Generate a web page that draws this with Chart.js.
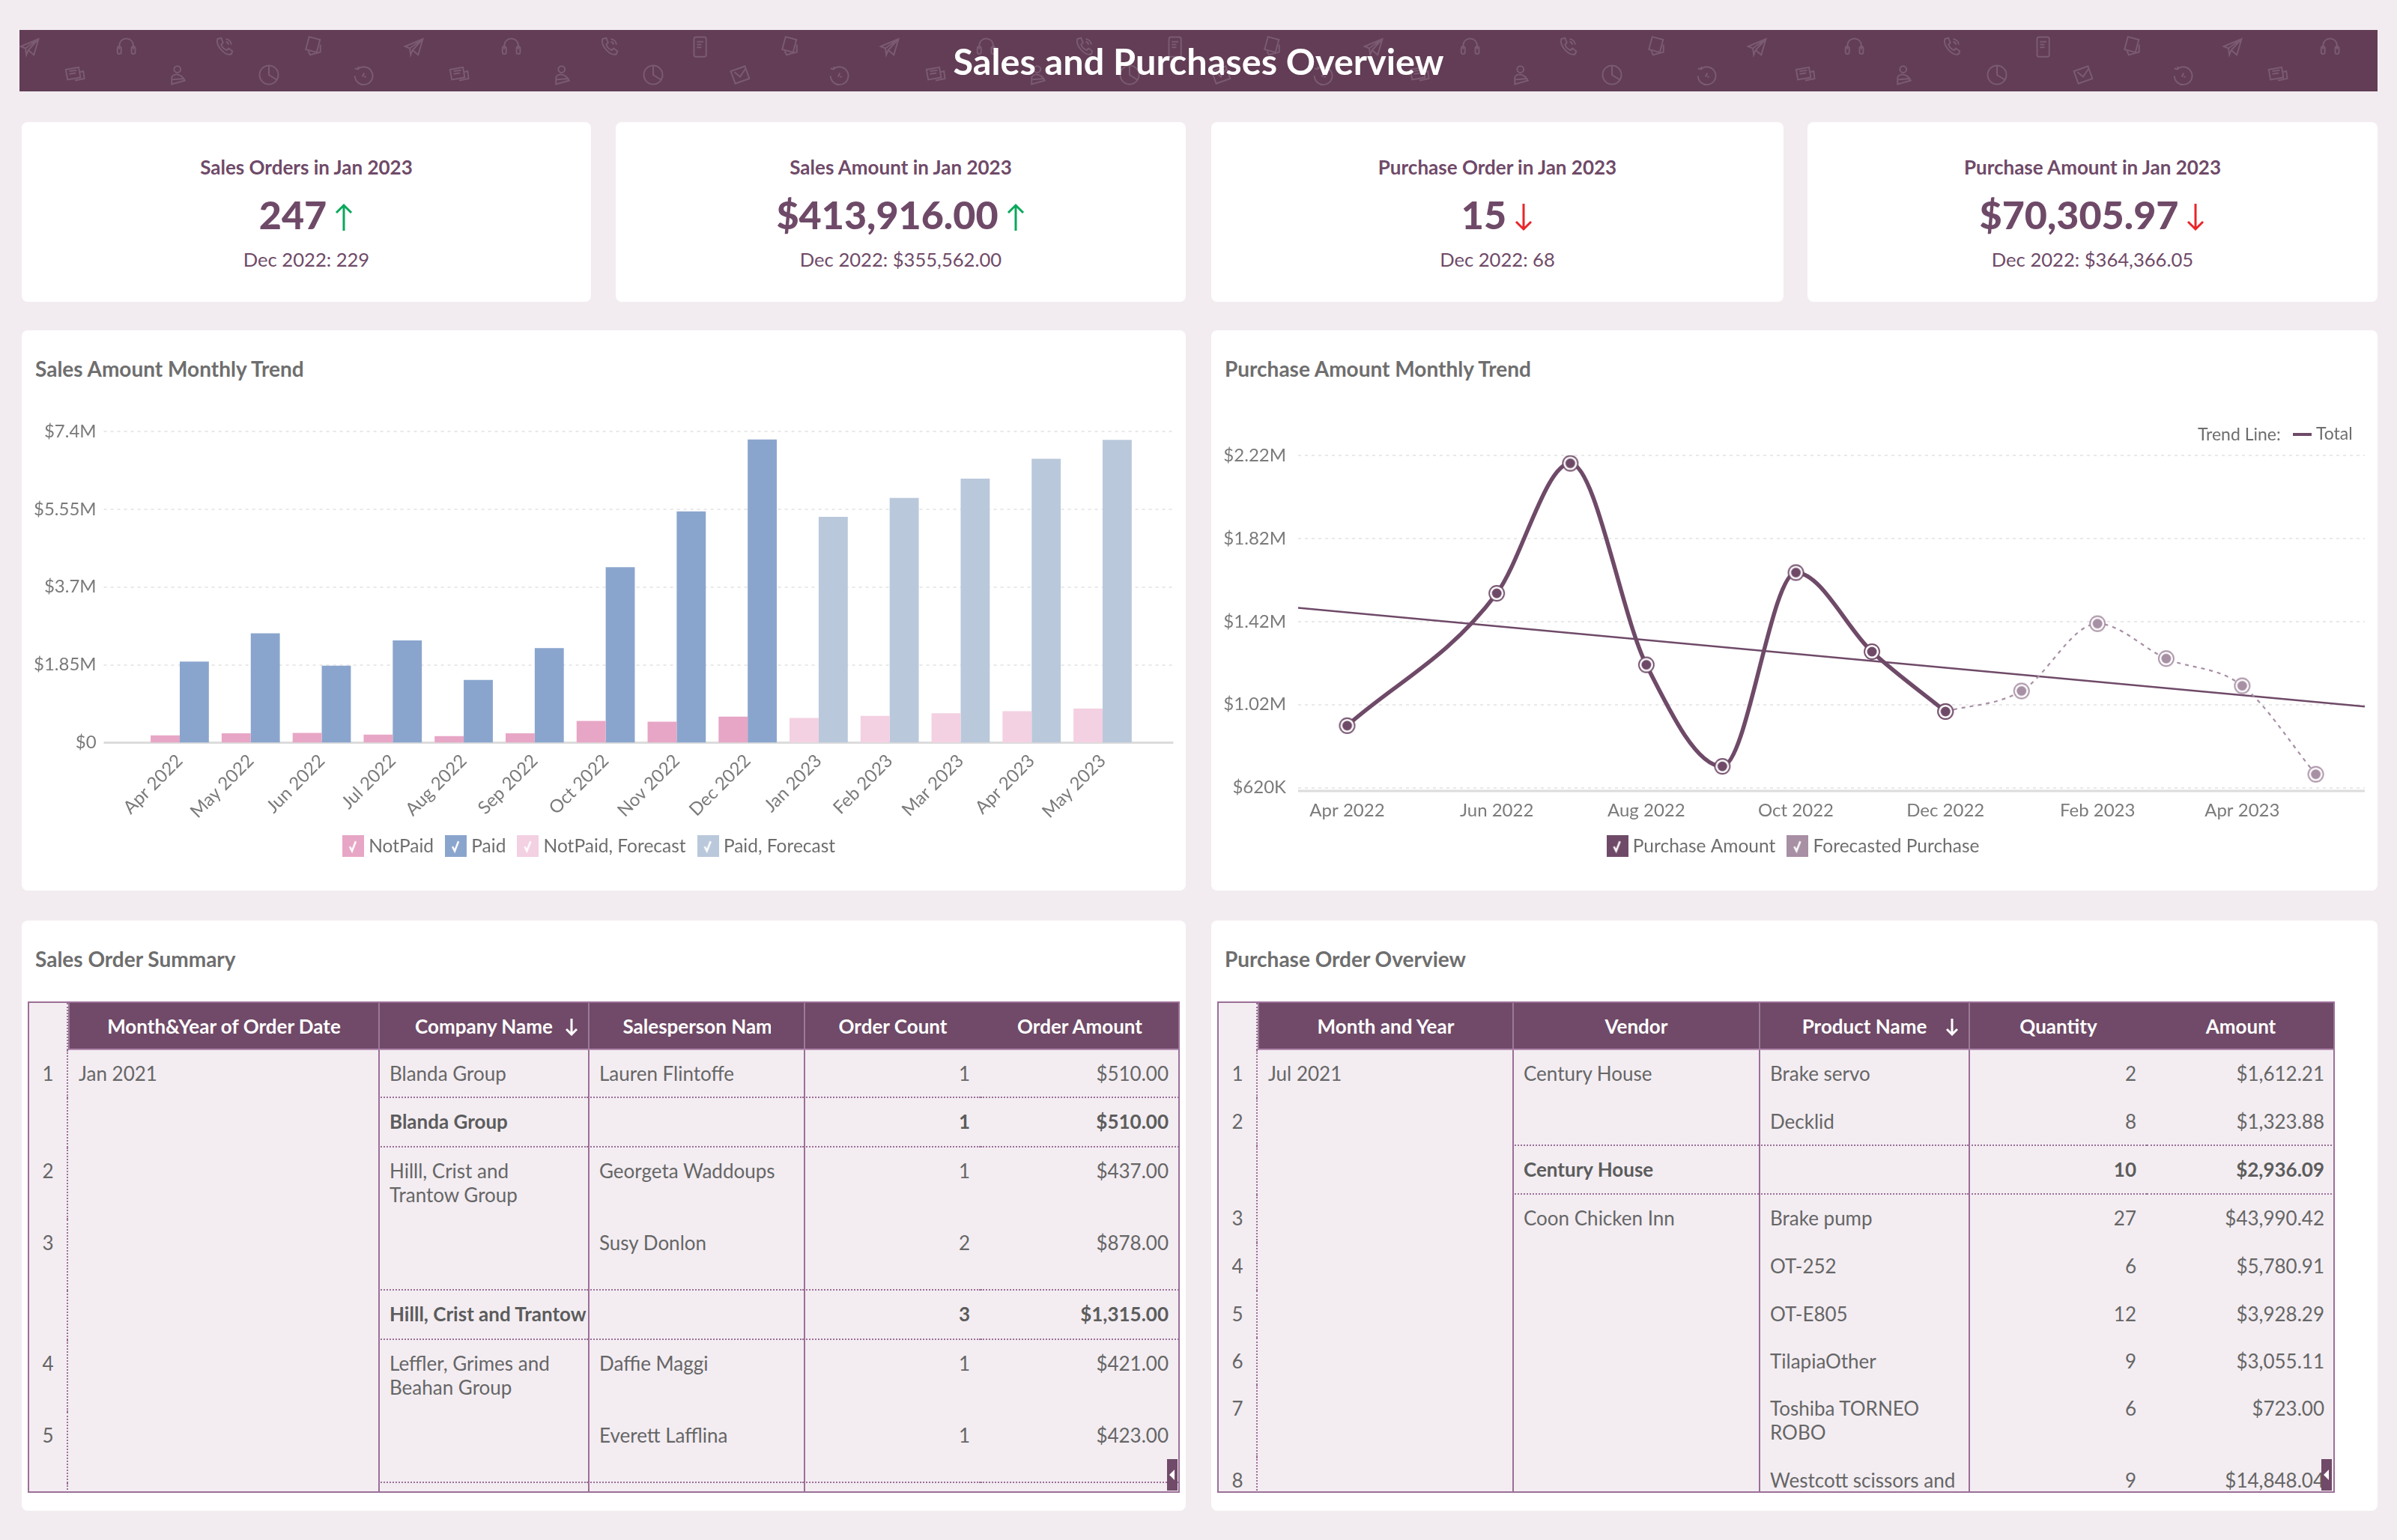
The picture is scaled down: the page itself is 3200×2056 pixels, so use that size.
<!DOCTYPE html>
<html>
<head>
<meta charset="utf-8">
<title>Sales and Purchases Overview</title>
<script src="https://cdn.jsdelivr.net/npm/chart.js@4/dist/chart.umd.min.js"></script>
<style>
  html, body { margin: 0; padding: 0; background: #f2ecf1; }
  body { position: relative; width: 3200px; height: 2056px; overflow: hidden; font-family: Lato, sans-serif; color: #666; }
  .abs { position: absolute; }
  .banner { left: 26px; top: 40px; width: 3148px; height: 82px; background: #623d55; overflow: hidden; }
  .banner svg { position: absolute; width: 30px; height: 30px; fill: none; stroke: #7b5b71; stroke-width: 1.6; }
  .banner-title { position: absolute; left: 0; width: 100%; top: 0; line-height: 82px; text-align: center; color: #fff; font-size: 48.6px; font-weight: 700; }
  .card { position: absolute; background: #fff; border-radius: 8px; }
  .kpi-title, .kpi-value, .kpi-prev { position: absolute; left: 0; width: 100%; text-align: center; color: #6f4a68; white-space: nowrap; }
  .kpi-title { top: 40px; line-height: 40px; font-size: 26px; font-weight: 700; }
  .kpi-value { top: 88px; line-height: 70px; font-size: 52px; font-weight: 900; }
  .kpi-value svg { width: 26px; height: 38px; margin-left: 10px; vertical-align: -3px; }
  .kpi-prev { top: 163px; line-height: 40px; font-size: 25.6px; }
  .card-title { position: absolute; font-size: 28px; font-weight: 700; color: #6e6e6e; line-height: 40px; white-space: nowrap; }
  canvas { position: absolute; }
  .frame { position: absolute; border: 2px solid #9b6f97; background: #f3edf2; overflow: hidden; box-sizing: border-box; }
  table { border-collapse: separate; border-spacing: 0; table-layout: fixed; position: absolute; left: 0; top: 0; font-size: 26px; color: #666; }
  th { background: #704a68; color: #fff; font-weight: 700; height: 63px; padding: 0; border-left: 2px solid #9b7a96; border-bottom: 2px solid #b48ab0; white-space: nowrap; position: relative; box-sizing: border-box; }
  th.noborder { border-left: 0; }
  th.blank { background: #f3edf2; border-left: 0; border-bottom: 0; border-right: 2px dotted #9b6f97; }
  th .clip { display: block; overflow: hidden; margin: 0 auto; text-align: left; }
  th svg { position: absolute; top: 20px; width: 16px; height: 24px; fill: none; stroke: #fff; stroke-width: 3; }
  td { padding: 15px 14px 0; line-height: 32px; vertical-align: top; overflow: hidden; box-sizing: border-box; }
  td.num { text-align: center; padding-left: 0; padding-right: 0; border-right: 2px dotted #9b6f97; }
  td.line { border-left: 2px solid #9b6f97; padding-left: 13px; }
  td.right { text-align: right; }
  td.nowrap { white-space: nowrap; padding-right: 0; }
  tr.total td { font-weight: 700; color: #5c5c5c; }
  td.dots { border-bottom: 2px dotted #9b6f97; }
  .scroller { position: absolute; width: 14px; height: 42px; background: #704a68; }
  .scroller:after { content: ""; position: absolute; left: 3px; top: 14px; border-style: solid; border-width: 7px 7px 7px 0; border-color: transparent #fff transparent transparent; }
  .trend-key { position: absolute; font-size: 23px; color: #6e6e6e; line-height: 30px; white-space: nowrap; }
</style>
</head>
<body>

<div class="abs banner" id="banner"><div class="banner-title">Sales and Purchases Overview</div></div>

<div id="kpis"></div>

<div class="card" style="left:29px;top:441px;width:1554px;height:748px"></div>
<div class="card" style="left:1617px;top:441px;width:1557px;height:748px"></div>
<div class="card-title" style="left:47px;top:472px">Sales Amount Monthly Trend</div>
<div class="card-title" style="left:1635px;top:472px">Purchase Amount Monthly Trend</div>
<canvas id="salesChart" width="1572" height="748" style="left:0;top:441px"></canvas>
<canvas id="purchaseChart" width="1553" height="748" style="left:1617px;top:441px"></canvas>
<div class="trend-key" style="left:2934px;top:564px">Trend Line:</div>
<div class="abs" style="left:3061px;top:578px;width:25px;height:4px;background:#6f4a68"></div>
<div class="trend-key" style="left:3092px;top:563px">Total</div>

<div class="card" style="left:29px;top:1229px;width:1554px;height:788px"></div>
<div class="card" style="left:1617px;top:1229px;width:1557px;height:788px"></div>
<div class="card-title" style="left:47px;top:1260px">Sales Order Summary</div>
<div class="card-title" style="left:1635px;top:1260px">Purchase Order Overview</div>
<div class="frame" id="salesTable" style="left:37px;top:1337px;width:1538px;height:656px"></div>
<div class="frame" id="purchaseTable" style="left:1625px;top:1337px;width:1492px;height:656px"></div>
<div class="scroller" style="left:1558px;top:1948px"></div>
<div class="scroller" style="left:3099px;top:1948px"></div>

<script>
const salesMonths = ['Apr 2022', 'May 2022', 'Jun 2022', 'Jul 2022', 'Aug 2022', 'Sep 2022', 'Oct 2022', 'Nov 2022', 'Dec 2022', 'Jan 2023', 'Feb 2023', 'Mar 2023', 'Apr 2023', 'May 2023'];
const notPaid = [172000, 224000, 233000, 190000, 155000, 224000, 517000, 500000, 620000, null, null, null, null, null];
const paid = [1930000, 2600000, 1830000, 2430000, 1490000, 2250000, 4170000, 5500000, 7210000, null, null, null, null, null];
const notPaidForecast = [null, null, null, null, null, null, null, null, null, 586000, 637000, 698000, 750000, 810000];
const paidForecast = [null, null, null, null, null, null, null, null, null, 5370000, 5820000, 6280000, 6750000, 7200000];
const salesTicks = [0, 1850000, 3700000, 5550000, 7400000];

// purchase chart runs on a real date axis, so x is days since 1 Apr 2022
const purchaseDays = [0, 61, 91, 122, 153, 183, 214, 244];
const purchaseAmount = [919000, 1556000, 2182000, 1212000, 723000, 1656000, 1275000, 987000];
const forecastDays = [244, 275, 306, 334, 365, 395];
const forecastAmount = [987000, 1086000, 1410000, 1242000, 1111000, 685000];
const trendDays = [-20, 415];
const trendAmount = [1486000, 1011000];
const purchaseTicks = [620000, 1020000, 1420000, 1820000, 2220000];
const purchaseTickDays = [0, 61, 122, 183, 244, 306, 365];
const purchaseTickLabels = ['Apr 2022', 'Jun 2022', 'Aug 2022', 'Oct 2022', 'Dec 2022', 'Feb 2023', 'Apr 2023'];

const kpiCards = [
  { title: 'Sales Orders in Jan 2023', value: '247', prev: 'Dec 2022: 229', up: true, left: 29, width: 760 },
  { title: 'Sales Amount in Jan 2023', value: '$413,916.00', prev: 'Dec 2022: $355,562.00', up: true, left: 822, width: 761 },
  { title: 'Purchase Order in Jan 2023', value: '15', prev: 'Dec 2022: 68', up: false, left: 1617, width: 764 },
  { title: 'Purchase Amount in Jan 2023', value: '$70,305.97', prev: 'Dec 2022: $364,366.05', up: false, left: 2413, width: 761 },
];

const salesColumns = ['Month&Year of Order Date', 'Company Name', 'Salesperson Name', 'Order Count', 'Order Amount'];
const salesRows = [
  ['1', 'Jan 2021', 'Blanda Group', 'Lauren Flintoffe', '1', '$510.00'],
  ['', '', 'Blanda Group', '', '1', '$510.00', 'total'],
  ['2', '', 'Hilll, Crist and Trantow Group', 'Georgeta Waddoups', '1', '$437.00'],
  ['3', '', '', 'Susy Donlon', '2', '$878.00', 'end'],
  ['', '', 'Hilll, Crist and Trantow Group', '', '3', '$1,315.00', 'total'],
  ['4', '', 'Leffler, Grimes and Beahan Group', 'Daffie Maggi', '1', '$421.00'],
  ['5', '', '', 'Everett Lafflina', '1', '$423.00', 'end'],
  ['', '', '', '', '', ''],
];
const salesHeights = [64, 66, 96, 95, 66, 96, 95, 40];
const salesWidths = [52, 414, 280, 288, 236, 265];

const purchaseColumns = ['Month and Year', 'Vendor', 'Product Name', 'Quantity', 'Amount'];
const purchaseRows = [
  ['1', 'Jul 2021', 'Century House', 'Brake servo', '2', '$1,612.21'],
  ['2', '', '', 'Decklid', '8', '$1,323.88', 'end'],
  ['', '', 'Century House', '', '10', '$2,936.09', 'total'],
  ['3', '', 'Coon Chicken Inn', 'Brake pump', '27', '$43,990.42'],
  ['4', '', '', 'OT-252', '6', '$5,780.91'],
  ['5', '', '', 'OT-E805', '12', '$3,928.29'],
  ['6', '', '', 'TilapiaOther', '9', '$3,055.11'],
  ['7', '', '', 'Toshiba TORNEO ROBO', '6', '$723.00'],
  ['8', '', '', 'Westcott scissors and', '9', '$14,848.04'],
];
const purchaseHeights = [64, 64, 65, 64, 64, 63, 63, 96, 60];
const purchaseWidths = [52, 340, 329, 280, 238, 251];

const iconShapes = {
  plane: '<path d="M3 12 L22 4 L17 21 L11 16 L9 21 L8 14 Z M8 14 L22 4 M11 16 L22 4"/>',
  headset: '<path d="M5 15 V11 a7.5 7.5 0 0 1 15 0 V15"/><rect x="3" y="12" width="4" height="8" rx="2"/><rect x="18" y="12" width="4" height="8" rx="2"/>',
  phone: '<path d="M5 4 L9 3 L11 8 L9 10 C10 13 12 15 15 16 L17 14 L21 17 L20 20 C14 23 3 12 5 4 Z"/><path d="M14 4 a7 7 0 0 1 6 6 M14 7 a4 4 0 0 1 3 3"/>',
  papers: '<rect x="5" y="3" width="12" height="14" transform="rotate(15 11 10)"/><path d="M6 17 L8 21 L19 18 L19 10"/>',
  tablet: '<rect x="6" y="2" width="13" height="21" rx="2"/><path d="M9 7 H16 M9 10 H14 M9 13 H14"/>',
  chat: '<rect x="3" y="5" width="14" height="11" transform="rotate(-10 10 10)"/><path d="M17 9 L21 8 L22 16 L12 18 M6 8 L14 7 M6 11 L13 10"/>',
  person: '<circle cx="11" cy="6" r="3.5"/><path d="M5 22 V15 C6 10 15 10 19 18 Z M6 17 L18 16"/>',
  pie: '<circle cx="12" cy="12" r="10"/><path d="M12 2 V12 L20 17"/>',
  clock: '<path d="M6 6 a9.5 9.5 0 1 1 -3 7 M3 5 L6 6 L7 3"/><path d="M11 14 L13 10 M13 14 H15"/>',
  letter: '<rect x="4" y="5" width="16" height="14" transform="rotate(-20 12 12)"/><path d="M6 9 L12 14 L18 5"/>',
};
const iconsTop = [['plane', 39], ['headset', 168], ['phone', 299], ['papers', 419], ['plane', 552], ['headset', 682], ['phone', 813], ['tablet', 934], ['papers', 1055], ['plane', 1187], ['headset', 1316], ['phone', 1447], ['tablet', 1568], ['papers', 1699], ['plane', 1833], ['headset', 1962], ['phone', 2093], ['papers', 2212], ['plane', 2345], ['headset', 2475], ['phone', 2605], ['tablet', 2727], ['papers', 2847], ['plane', 2980], ['headset', 3110]];
const iconsBottom = [['chat', 100], ['person', 238], ['pie', 359], ['clock', 485], ['chat', 613], ['person', 751], ['pie', 872], ['letter', 988], ['clock', 1120], ['chat', 1249], ['person', 1386], ['pie', 1508], ['letter', 1630], ['clock', 1766], ['chat', 1895], ['person', 2031], ['pie', 2152], ['clock', 2278], ['chat', 2410], ['person', 2542], ['pie', 2666], ['letter', 2781], ['clock', 2914], ['chat', 3041]];

// header pattern
const banner = document.getElementById('banner');
const drawIcons = (list, top) => {
  let html = '';
  list.forEach(([name, x]) => {
    html += `<svg viewBox="0 0 24 24" style="left:${x - 26 - 15}px;top:${top}px">${iconShapes[name]}</svg>`;
  });
  banner.insertAdjacentHTML('afterbegin', html);
};
drawIcons(iconsTop, 7);
drawIcons(iconsBottom, 45);

// KPI cards
const arrowSvg = (up) => {
  const color = up ? '#0aa85a' : '#e8262a';
  const path = up ? 'M13 37 V3 M3 13 L13 3 L23 13' : 'M13 1 V35 M3 25 L13 35 L23 25';
  return `<svg viewBox="0 0 26 38" fill="none" stroke="${color}" stroke-width="3">` + `<path d="${path}"/></svg>`;
};
document.getElementById('kpis').innerHTML = kpiCards.map(k => `
  <div class="card" style="left:${k.left}px;top:163px;width:${k.width}px;height:240px">
    <div class="kpi-title">${k.title}</div>
    <div class="kpi-value">${k.value}${arrowSvg(k.up)}</div>
    <div class="kpi-prev">${k.prev}</div>
  </div>`).join('');

// tables
const headCell = (text, i, clips) => {
  const c = clips[i];
  const inner = c && c.clip ? `<span class="clip" style="width:${c.clip}px">${text}</span>` : text;
  const arrow = c && c.arrow ? `<svg viewBox="0 0 16 24" style="left:${c.arrow}px"><path d="M8 1 V22 M1 15 L8 22 L15 15"/></svg>` : '';
  return `<th${i === 4 ? ' class="noborder"' : ''}>${inner}${arrow}</th>`;
};
const buildTable = (id, columns, rows, heights, widths, clips) => {
  let html = '<table style="width:' + widths.reduce((a, b) => a + b, 0) + 'px"><colgroup>';
  widths.forEach(w => { html += `<col style="width:${w}px">`; });
  html += '</colgroup><tr><th class="blank"></th>' + columns.map((c, i) => headCell(c, i, clips)).join('') + '</tr>';
  rows.forEach((r, i) => {
    const kind = r[6] || '';
    const dots = rows[i + 1] && (kind === 'total' || kind === 'end' || (rows[i + 1][6] === 'total')) ? ' dots' : '';
    html += `<tr class="${kind}" style="height:${heights[i]}px">`;
    html += `<td class="num">${r[0]}</td><td>${r[1]}</td>`;
    html += `<td class="line${dots}${kind === 'total' ? ' nowrap' : ''}">${r[2]}</td>`;
    html += `<td class="line${dots}">${r[3]}</td>`;
    html += `<td class="line right${dots}">${r[4]}</td>`;
    html += `<td class="right${dots}">${r[5]}</td></tr>`;
  });
  document.getElementById(id).innerHTML = html + '</table>';
};
buildTable('salesTable', salesColumns, salesRows, salesHeights, salesWidths, { 1: { arrow: 248 }, 2: { clip: 197 } });
buildTable('purchaseTable', purchaseColumns, purchaseRows, purchaseHeights, purchaseWidths, { 2: { arrow: 248 } });

// swatches and markers are small canvases so the legend and points can use them as pointStyle
const makeSwatch = (color) => {
  const c = document.createElement('canvas');
  c.width = 29; c.height = 29;
  const ctx = c.getContext('2d');
  ctx.fillStyle = color;
  ctx.fillRect(0, 0, 29, 29);
  ctx.strokeStyle = '#fff';
  ctx.lineWidth = 2.5;
  ctx.beginPath();
  ctx.moveTo(10, 15); ctx.lineTo(13, 21); ctx.lineTo(18, 8);
  ctx.stroke();
  return c;
};
const makeMarker = (color) => {
  const c = document.createElement('canvas');
  c.width = 24; c.height = 24;
  const ctx = c.getContext('2d');
  ctx.fillStyle = '#fff';
  ctx.strokeStyle = color;
  ctx.lineWidth = 1.8;
  ctx.beginPath(); ctx.arc(12, 12, 10, 0, Math.PI * 2); ctx.fill(); ctx.stroke();
  ctx.fillStyle = color;
  ctx.beginPath(); ctx.arc(12, 12, 6.5, 0, Math.PI * 2); ctx.fill();
  return c;
};

// dotted guides and the base line, these run wider than the plot area
const guideLines = {
  id: 'guideLines',
  beforeDatasetsDraw(chart, args, opts) {
    const { ctx, chartArea, scales } = chart;
    const x0 = chartArea.left - opts.extLeft;
    const x1 = chartArea.right + opts.extRight;
    ctx.save();
    ctx.strokeStyle = '#e9e9e9';
    ctx.lineWidth = 2;
    ctx.setLineDash([4, 5]);
    opts.ticks.forEach(v => {
      const y = Math.round(scales.y.getPixelForValue(v));
      ctx.beginPath(); ctx.moveTo(x0, y); ctx.lineTo(x1, y); ctx.stroke();
    });
    ctx.setLineDash([]);
    ctx.strokeStyle = '#dcdcdc';
    ctx.lineWidth = 3;
    ctx.beginPath(); ctx.moveTo(x0, chartArea.bottom); ctx.lineTo(x1, chartArea.bottom); ctx.stroke();
    ctx.restore();
  },
};

const moneyTick = (v) => {
  if (v === 0) return '$0';
  return v >= 1000000 ? `$${v / 1000000}M` : `$${v / 1000}K`;
};
const legendOptions = (items) => ({
  position: 'bottom',
  labels: {
    usePointStyle: true,
    pointStyleWidth: 17,
    padding: 21,
    color: '#6e6e6e',
    font: { size: 24.5 },
    generateLabels: () => items.map(it => ({
      text: it.text, pointStyle: makeSwatch(it.color), fontColor: '#6e6e6e', hidden: false, lineWidth: 0,
    })),
  },
});

Chart.defaults.font.family = 'Lato';
Chart.defaults.font.size = 24;
Chart.defaults.color = '#7a7a7a';
Chart.defaults.animation = false;

new Chart(document.getElementById('salesChart'), {
  type: 'bar',
  plugins: [guideLines],
  data: {
    labels: salesMonths,
    datasets: [
      { label: 'NotPaid', data: notPaid, backgroundColor: '#e7a6c5', stack: 'notPaid' },
      { label: 'Paid', data: paid, backgroundColor: '#8aa5cd', stack: 'paid' },
      { label: 'NotPaid, Forecast', data: notPaidForecast, backgroundColor: '#f3d0e2', stack: 'notPaid' },
      { label: 'Paid, Forecast', data: paidForecast, backgroundColor: '#bac8db', stack: 'paid' },
    ],
  },
  options: {
    responsive: false,
    devicePixelRatio: 1,
    layout: { padding: { left: 58.6, right: 52.6, top: 135, bottom: 37 } },
    datasets: { bar: { categoryPercentage: 0.82, barPercentage: 1 } },
    plugins: {
      tooltip: { enabled: false },
      guideLines: { extLeft: 54, extRight: 47, ticks: salesTicks },
      legend: legendOptions([
        { text: 'NotPaid', color: '#e7a6c5' }, { text: 'Paid', color: '#8aa5cd' },
        { text: 'NotPaid, Forecast', color: '#f3d0e2' }, { text: 'Paid, Forecast', color: '#bac8db' },
      ]),
    },
    scales: {
      x: {
        stacked: true,
        grid: { display: false },
        border: { display: false },
        afterFit: (s) => { s.height = 105; },
        ticks: { minRotation: 45, maxRotation: 45, autoSkip: false, padding: 2 },
      },
      y: {
        stacked: true,
        min: 0,
        max: 7400000,
        grid: { display: false },
        border: { display: false },
        // labels reach a little past the axis box, so switch off its clip
        afterFit: (s) => { s.width = 134; s._computeLabelArea = () => null; },
        afterBuildTicks: (s) => { s.ticks = salesTicks.map(v => ({ value: v })); },
        ticks: { padding: 56, callback: moneyTick },
      },
    },
  },
});

const toPoints = (xs, ys) => xs.map((x, i) => ({ x, y: ys[i] }));

new Chart(document.getElementById('purchaseChart'), {
  type: 'line',
  plugins: [guideLines],
  data: {
    datasets: [
      {
        label: 'Purchase Amount',
        data: toPoints(purchaseDays, purchaseAmount),
        borderColor: '#6f4a68',
        borderWidth: 5.5,
        cubicInterpolationMode: 'monotone',
        pointStyle: makeMarker('#6f4a68'),
      },
      {
        label: 'Forecasted Purchase',
        data: toPoints(forecastDays, forecastAmount),
        borderColor: '#a78fa4',
        borderWidth: 2.2,
        borderDash: [5, 6],
        cubicInterpolationMode: 'monotone',
        pointStyle: makeMarker('#a78fa4'),
      },
      {
        label: 'Total',
        data: toPoints(trendDays, trendAmount),
        borderColor: '#6f4a68',
        borderWidth: 2.5,
        pointRadius: 0,
      },
    ],
  },
  options: {
    responsive: false,
    devicePixelRatio: 1,
    layout: { padding: { left: 19, right: 13, top: 167, bottom: 37 } },
    plugins: {
      tooltip: { enabled: false },
      guideLines: { extLeft: 0, extRight: 0, ticks: purchaseTicks },
      legend: legendOptions([
        { text: 'Purchase Amount', color: '#6f4a68' }, { text: 'Forecasted Purchase', color: '#a78fa4' },
      ]),
    },
    scales: {
      x: {
        type: 'linear',
        min: -20,
        max: 415,
        grid: { display: false },
        border: { display: false },
        afterFit: (s) => { s.height = 40.4; },
        afterBuildTicks: (s) => { s.ticks = purchaseTickDays.map(v => ({ value: v })); },
        ticks: { maxRotation: 0, autoSkip: false, padding: 4, callback: (v) => purchaseTickLabels[purchaseTickDays.indexOf(v)] },
      },
      y: {
        min: 604000,
        max: 2220000,
        grid: { display: false },
        border: { display: false },
        afterFit: (s) => { s.width = 97; s._computeLabelArea = () => null; },
        afterBuildTicks: (s) => { s.ticks = purchaseTicks.map(v => ({ value: v })); },
        ticks: { padding: 8, callback: moneyTick },
      },
    },
  },
});
</script>
</body>
</html>
